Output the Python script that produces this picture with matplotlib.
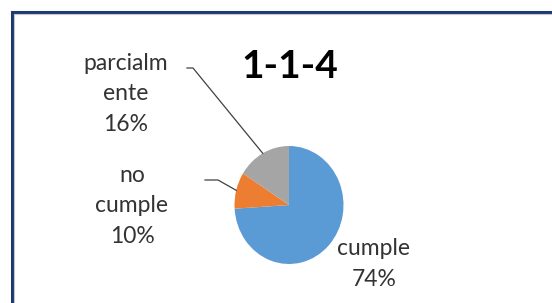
import matplotlib.pyplot as plt
import numpy as np
from matplotlib.patches import Rectangle

plt.rcParams['font.family'] = ['Lato', 'DejaVu Sans']

# data
categories = ['cumple', 'no cumple', 'parcialmente']
label_text = ['cumple\n74%', 'no\ncumple\n10%', 'parcialm\nente\n16%']
values = [74, 10, 16]
colors = ['#5B9BD5', '#ED7D31', '#A5A5A5']
title = '1-1-4'

W, H = 552, 303
fig = plt.figure(figsize=(W / 100, H / 100), dpi=100)


def fx(px):
    return px / W


def fy(py):
    return 1 - py / H


# frame (dark blue outer line + grey inner line), cropped on right/bottom
fig.patches.append(Rectangle((fx(11.5), fy(320)), fx(600), fy(11.5) - fy(320),
                             transform=fig.transFigure, fill=False,
                             edgecolor='#1F3A73', linewidth=2.2))
fig.patches.append(Rectangle((fx(13.8), fy(320)), fx(600), fy(13.8) - fy(320),
                             transform=fig.transFigure, fill=False,
                             edgecolor='#C8C8C8', linewidth=0.8))

# pie axes: slightly taller than wide, like the original
cx, cy, rx, ry = 289, 205, 54.5, 59
ax = fig.add_axes([fx(cx - rx), fy(cy + ry), 2 * rx / W, 2 * ry / H])
wedges, _ = ax.pie(values, colors=colors, startangle=90, counterclock=False,
                   radius=1, wedgeprops=dict(linewidth=0))
ax.set_aspect('auto')
ax.set_xlim(-1, 1)
ax.set_ylim(-1, 1)
ax.axis('off')


def to_data(px, py):
    return (px - cx) / rx, (cy - py) / ry


# leader lines for the two small slices
leaders = {1: [(205, 180), (218, 180)], 2: [(187, 68), (193, 68)]}
for i, pts in leaders.items():
    w = wedges[i]
    mid = np.deg2rad((w.theta1 + w.theta2) / 2)
    xs = [to_data(*p)[0] for p in pts] + [np.cos(mid)]
    ys = [to_data(*p)[1] for p in pts] + [np.sin(mid)]
    ax.plot(xs, ys, color='#404040', linewidth=0.9, clip_on=False)

# data labels
label_pos = [(374, 264), (132, 206), (126, 94)]
for txt, (px, py) in zip(label_text, label_pos):
    fig.text(fx(px), fy(py), txt, ha='center', va='center', fontsize=16.5,
             color='#333333', linespacing=1.55)

fig.text(fx(290), fy(66), title, ha='center', va='center', fontsize=28,
         fontweight='bold', color='black')

fig.savefig('out.png', dpi=100)
